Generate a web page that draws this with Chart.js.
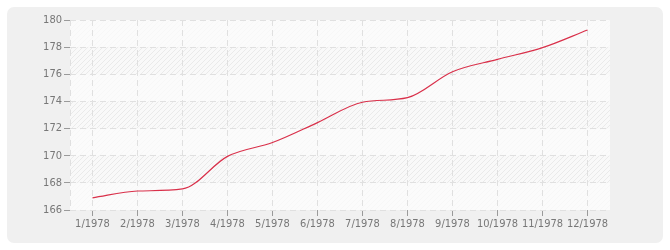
<!DOCTYPE html>
<html>
<head>
<meta charset="utf-8">
<script src="https://cdn.jsdelivr.net/npm/chart.js@4"></script>
<style>
  html, body { margin: 0; padding: 0; background: #fff; }
  #wrap { width: 670px; height: 250px; }
</style>
</head>
<body>
<div id="wrap"><canvas id="myChart" width="670" height="250"></canvas></div>
<script>
// values
var months = ['1/1978', '2/1978', '3/1978', '4/1978', '5/1978', '6/1978',
  '7/1978', '8/1978', '9/1978', '10/1978', '11/1978', '12/1978'];
var values = [166.9, 167.4, 167.55, 169.95, 170.97, 172.44,
  173.94, 174.28, 176.19, 177.1, 177.96, 179.26];
var yTicks = [166, 168, 170, 172, 174, 176, 178, 180];

var FONT = "'DejaVu Sans Condensed', 'DejaVu Sans', sans-serif";

// hatch tile for the plot background
function hatchPattern(ctx) {
  var c = document.createElement('canvas');
  c.width = 5; c.height = 5;
  var t = c.getContext('2d');
  t.fillStyle = '#f9f9f9';
  t.fillRect(0, 0, 5, 5);
  t.strokeStyle = '#eaeaea';
  t.lineWidth = 1;
  t.beginPath();
  t.moveTo(-1, 6); t.lineTo(6, -1);
  t.moveTo(-1, 1); t.lineTo(1, -1);
  t.moveTo(4, 6); t.lineTo(6, 4);
  t.stroke();
  return ctx.createPattern(c, 'repeat');
}

var background = {
  id: 'background',
  beforeDraw: function (chart) {
    var ctx = chart.ctx;
    var a = chart.chartArea;
    var y = chart.scales.y;
    ctx.save();
    // outer panel
    ctx.fillStyle = '#f0f0f0';
    ctx.beginPath();
    ctx.roundRect(7, 7, 656, 236, 7);
    ctx.fill();
    // hatched plot area
    ctx.fillStyle = hatchPattern(ctx);
    ctx.fillRect(a.left, a.top, a.right - a.left, a.bottom - a.top);
    // lighter alternate bands
    ctx.fillStyle = 'rgba(251,251,251,0.75)';
    for (var i = 0; i < yTicks.length - 1; i += 2) {
      var y1 = y.getPixelForValue(yTicks[i]);
      var y2 = y.getPixelForValue(yTicks[i + 1]);
      ctx.fillRect(a.left, y2, a.right - a.left, y1 - y2);
    }
    ctx.restore();
  },
  beforeDatasetsDraw: function (chart) {
    var ctx = chart.ctx;
    var a = chart.chartArea;
    ctx.save();
    ctx.strokeStyle = '#e0e0e0';
    ctx.lineWidth = 1;
    ctx.setLineDash([6, 4]);
    ctx.beginPath();
    ctx.moveTo(a.left + 0.5, a.top);
    ctx.lineTo(a.left + 0.5, a.bottom);
    ctx.stroke();
    ctx.restore();
  }
};

var ctx = document.getElementById('myChart').getContext('2d');

var lineChart = new Chart(ctx, {
  type: 'line',
  data: {
    labels: months,
    datasets: [{
      data: values,
      borderColor: '#d9304a',
      borderWidth: 1.2,
      pointRadius: 0,
      cubicInterpolationMode: 'monotone',
      fill: false
    }]
  },
  options: {
    responsive: false,
    animation: false,
    events: [],
    layout: { padding: { left: 0, top: 20, right: 60, bottom: 0 } },
    plugins: { legend: { display: false }, tooltip: { enabled: false } },
    scales: {
      x: {
        offset: true,
        afterFit: function (scale) { scale.height = 40; },
        grid: {
          color: '#e0e0e0',
          tickColor: '#9a9a9a',
          tickLength: 6,
          tickBorderDash: []
        },
        border: { display: false, dash: [6, 4] },
        ticks: {
          color: '#777777',
          padding: 2,
          maxRotation: 0,
          autoSkip: false,
          font: { family: FONT, size: 11 }
        }
      },
      y: {
        min: 166,
        max: 180,
        afterFit: function (scale) { scale.width = 70; },
        afterBuildTicks: function (scale) {
          scale.ticks = yTicks.map(function (v) { return { value: v }; });
        },
        grid: {
          color: '#e0e0e0',
          tickColor: '#9a9a9a',
          tickLength: 6,
          tickBorderDash: []
        },
        border: { display: false, dash: [6, 4] },
        ticks: {
          color: '#777777',
          padding: 2,
          font: { family: FONT, size: 11 }
        }
      }
    }
  },
  plugins: [background]
});
</script>
</body>
</html>
